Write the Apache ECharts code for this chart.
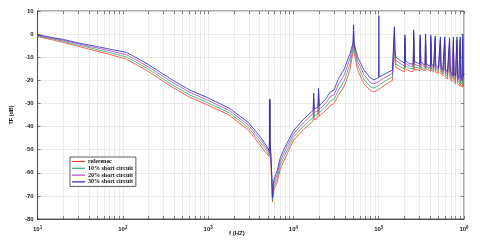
<!DOCTYPE html>
<html><head><meta charset="utf-8">
<script src="https://cdn.jsdelivr.net/npm/echarts@6/dist/echarts.min.js"></script>
<style>html,body{margin:0;padding:0;background:#fff}#c{width:480px;height:241px}</style>
</head><body><div id="c"></div>
<script>
var seriesNames = ['referenec', '10% short circuit', '20% short circuit', '30% short circuit'];
var freq = [10,15,20,30,50,70,100,110,130,200,370,600,1000,1760,2960,4160,4800,5200,5250,5290,5330,5450,5600,5680,5800,5900,6470,7000,7700,10000,13000,17000,17300,17600,19400,19700,20100,24000,27000,30000,33500,39600,46000,50000,50700,51500,56500,67000,80000,88000,99500,100500,101500,113000,145000,151000,152800,155000,160000,180000,200000,203000,206000,230000,254000,257000,262000,285000,303000,306000,312000,330000,350000,354000,360000,380000,404000,408000,415000,440000,455000,459000,466000,500000,525000,529000,537000,565000,590000,595000,604000,640000,672000,677000,687000,720000,746000,751000,762000,795000,823000,828000,840000,870000,897000,902000,915000,945000,962000,967000,980000,1000000];
var reference = [-1.1,-2.5,-3.6,-5.3,-7.4,-8.8,-10.4,-10.9,-12.3,-16.2,-22.7,-27.2,-30.8,-35.0,-41.5,-48.5,-51.5,-53.0,-48,-30,-47.5,-57,-67,-72.5,-69.5,-67.5,-64,-58.5,-55,-46,-41.5,-37.5,-34,-37,-36,-31,-35.5,-33,-31,-30,-26.5,-22.5,-15.5,-7.5,-3,-8,-15.5,-21.5,-24.5,-25,-24,-24,-23.8,-22.5,-20,-19.8,-2,-12,-14.5,-15.5,-16.3,-4,-15,-16,-16.3,-2.5,-15.5,-15.4,-15.8,-4,-15,-15.5,-15.8,-3.5,-15,-15.5,-16,-4,-15.5,-16.5,-16.8,-4.5,-16.5,-17,-17.3,-5,-17,-18,-18.3,-5,-18.5,-19.5,-19.8,-5.5,-19.5,-20.5,-21,-5,-20.5,-21.5,-22,-5,-21.5,-22,-22.5,-5,-22,-22.5,-23,-4.5,-22.5,-22.5];
var sc10 = [-0.8,-2.1,-3.1,-4.7,-6.7,-8.0,-9.5,-9.9,-11.3,-15.2,-21.7,-26.2,-29.8,-34.0,-40.4,-47.2,-50.3,-52.2,-47,-29,-46.8,-55.5,-65.5,-71.8,-68,-66,-62.3,-56.8,-53.3,-44.6,-40,-36,-31,-35.5,-34.5,-28,-34,-31.5,-29,-28.2,-24.5,-20,-13,-6.3,-1,-6.5,-13.5,-19.5,-22.8,-23.3,-22.3,-22.3,-22.1,-20.8,-18.5,-18.3,0,-10.5,-13,-14.2,-15,-3,-13.8,-14.8,-15,-1,-14.3,-14.5,-14.8,-3,-14,-14.7,-15,-2.5,-14.2,-14.8,-15.2,-3,-14.6,-15.7,-16,-3.5,-15.5,-16.2,-16.5,-4,-16,-17.2,-17.5,-4,-17.3,-18.5,-19,-4.5,-18.3,-19.4,-20,-4,-19.2,-20.3,-21,-4,-20.2,-21,-21.5,-4,-20.7,-21.5,-22,-3.5,-21.2,-21];
var sc20 = [-0.5,-1.8,-2.7,-4.2,-6.0,-7.2,-8.6,-8.9,-10.3,-14.2,-20.6,-25.1,-28.7,-33.0,-39.3,-46.0,-49.2,-51.3,-46,-28.5,-46,-54,-64,-71,-66.5,-64.5,-60.6,-55.2,-51.6,-43.2,-38.5,-34.4,-28,-34,-33,-25.5,-32.5,-30,-27,-26.3,-22,-17.5,-10.5,-5,1.5,-5.2,-11.5,-17.5,-21,-21.5,-20.5,-20.5,-20.3,-19.2,-17,-16.8,1.8,-9,-11.5,-12.8,-13.8,-1.5,-12.6,-13.8,-14,0.5,-13,-13.5,-13.8,-1.5,-13,-13.8,-14,-1,-13.3,-14.2,-14.5,-1.5,-13.7,-14.8,-15,-2,-14.5,-15.3,-15.7,-2.5,-15,-16.3,-16.7,-2.5,-16.2,-17.5,-18,-3,-17.2,-18.2,-19,-2.5,-17.8,-19.2,-19.8,-2.5,-18.8,-20,-20.5,-2.5,-19.3,-20.5,-21,-2,-19.8,-19];
var sc30 = [-0.3,-1.5,-2.3,-3.8,-5.4,-6.5,-7.6,-7.9,-9.3,-13.2,-19.6,-24.1,-27.6,-32.0,-38.2,-44.8,-48.2,-50.5,-45,-28,-45.5,-53,-62.5,-70.5,-65,-63,-59,-53.5,-50,-41.8,-37,-33,-25.5,-32.5,-31.5,-23.5,-31,-28,-25,-24.2,-19.5,-15,-8.5,-3.8,4,-4,-9.8,-15.5,-19,-19.8,-18.8,8,-18.6,-17.6,-15.5,-15.3,3.2,-7.5,-10,-11.5,-12.5,-0.3,-11.5,-12.8,-13,1.8,-11.8,-12.5,-12.8,-0.3,-12,-13,-13.2,0.1,-12.5,-13.5,-13.8,-0.3,-12.8,-14,-14.3,-0.8,-13.5,-14.5,-15,-1.2,-14,-15.5,-16,-1.2,-15,-16.5,-17.2,-1.6,-16,-17,-18,-1.2,-16.5,-18,-18.8,-1.2,-17.5,-19,-19.5,-1.2,-18,-19.5,-20,-0.3,-18.5,-17];
var colors = ['#e8452f', '#3aa86b', '#a845c8', '#2a2ab8'];
var yTicks = [10,0,-10,-20,-30,-40,-50,-60,-70,-80];
var decades = [10,100,1000,10000,100000,1000000];

var minorTicks = [];
for (var d = 0; d < decades.length; d++) {
  for (var k = 1; k < 10; k++) {
    var v = decades[d] * k;
    if (v <= 1000000) minorTicks.push(v);
  }
}
var allSeries = [reference, sc10, sc20, sc30];
function pairs(vals) { return freq.map(function (f, i) { return [f, vals[i]]; }); }
var supMap = {1:'1',2:'2',3:'3',4:'4',5:'5',6:'6'};
var chart = echarts.init(document.getElementById('c'), null, {renderer: 'canvas'});
var axisFont = {fontFamily: 'Liberation Sans, Arial, sans-serif', fontWeight: 'bold', fontSize: 6, color: '#222'};
chart.setOption({
  animation: false,
  grid: {left: 21, right: 16, top: 11, bottom: 22, show: true, borderColor: '#333', borderWidth: 0.8, backgroundColor: '#fff'},
  legend: {
    left: 70, top: 157, orient: 'vertical', itemWidth: 13, itemHeight: 1.2, itemGap: 0.8,
    icon: 'rect', padding: [1.5, 3, 1.5, 2], borderColor: '#333', borderWidth: 0.8, backgroundColor: '#fff',
    data: seriesNames,
    textStyle: {fontFamily: 'Liberation Serif, Times New Roman, serif', fontWeight: 'bold', fontSize: 6, color: '#111', padding: [0,0,0,-2]}
  },
  xAxis: [{
    type: 'log', logBase: 10, min: 10, max: 1000000,
    axisLine: {show: true, onZero: false, lineStyle: {color: '#333', width: 0.8}},
    axisTick: {show: true, inside: true, length: 3, customValues: minorTicks, lineStyle: {color: '#333', width: 0.6}},
    axisLabel: {customValues: decades, margin: 6, formatter: function (v) {
      var e = Math.round(Math.log10(v));
      return '{b|10}{s|' + supMap[e] + '}';
    }, rich: {b: {fontFamily: 'Liberation Sans, Arial, sans-serif', fontWeight: 'bold', fontSize: 6, color: '#222'}, s: {fontFamily: 'Liberation Sans, Arial, sans-serif', fontWeight: 'bold', fontSize: 4.5, color: '#222', verticalAlign: 'top', padding: [0,0,4,0]}}},
    splitLine: {show: true, lineStyle: {color: '#e4e4e4', width: 0.7}}
  }, {
    type: 'log', logBase: 10, min: 10, max: 1000000, position: 'top',
    axisLine: {show: false, onZero: false},
    axisTick: {show: true, inside: true, length: 3, customValues: minorTicks, lineStyle: {color: '#333', width: 0.6}},
    axisLabel: {show: false}, splitLine: {show: false}
  }],
  yAxis: [{
    type: 'value', min: -80, max: 10, interval: 10,
    name: 'TF (dB)', nameLocation: 'middle', nameGap: 15, nameRotate: 90,
    nameTextStyle: {fontFamily: 'Liberation Sans, Arial, sans-serif', fontWeight: 'bold', fontSize: 5.5, color: '#222'},
    axisLine: {show: true, onZero: false, lineStyle: {color: '#333', width: 0.8}},
    axisTick: {show: true, inside: true, length: 3, lineStyle: {color: '#333', width: 0.6}},
    axisLabel: Object.assign({margin: 4}, axisFont),
    splitLine: {show: true, lineStyle: {color: '#e4e4e4', width: 0.7}}
  }, {
    type: 'value', min: -80, max: 10, interval: 10, position: 'right',
    axisLine: {show: false, onZero: false},
    axisTick: {show: true, inside: true, length: 3, lineStyle: {color: '#333', width: 0.6}},
    axisLabel: {show: false}, splitLine: {show: false}
  }],
  graphic: [{type: 'text', left: 229, top: 230, style: {text: 'f (HZ)', font: 'bold 6px Liberation Sans, Arial, sans-serif', fill: '#222'}}],
  series: allSeries.map(function (vals, i) {
    return {
      name: seriesNames[i], type: 'line', data: pairs(vals), showSymbol: false, symbol: 'none',
      lineStyle: {color: colors[i], width: 0.8}, itemStyle: {color: colors[i]}, z: 2 + i
    };
  })
});
</script></body></html>
